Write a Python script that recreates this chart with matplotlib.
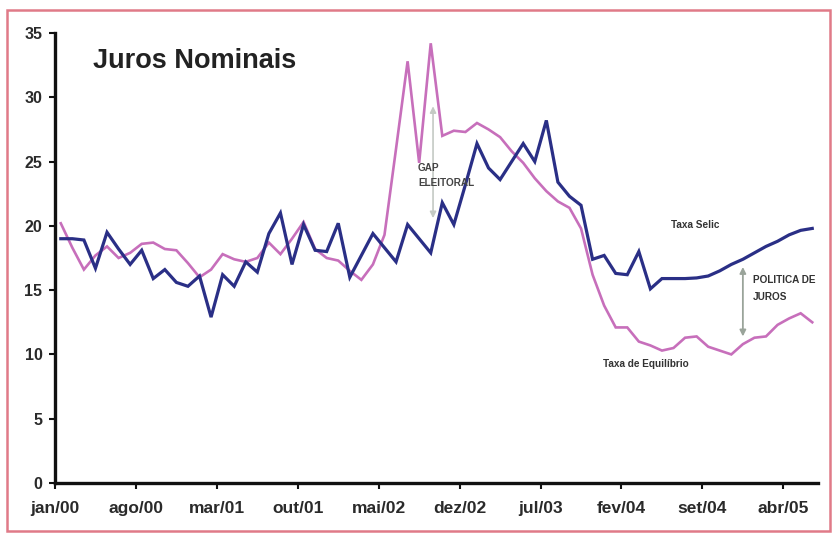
import matplotlib
matplotlib.use("Agg")
import matplotlib.pyplot as plt
from matplotlib.patches import Rectangle

# monthly series, jan/00 .. jun/05
selic = [
    19.0, 19.0, 18.9, 16.7, 19.5, 18.2, 17.0, 18.1, 15.9, 16.6,
    15.6, 15.3, 16.1, 12.9, 16.2, 15.3, 17.2, 16.4, 19.4, 21.0,
    17.0, 20.1, 18.1, 18.0, 20.2, 16.0, 17.7, 19.4, 18.3, 17.2,
    20.1, 19.0, 17.9, 21.8, 20.1, 23.2, 26.4, 24.5, 23.6, 25.0,
    26.4, 25.0, 28.2, 23.4, 22.3, 21.6, 17.4, 17.7, 16.3, 16.2,
    18.0, 15.1, 15.9, 15.9, 15.9, 15.95, 16.1, 16.5, 17.0, 17.4,
    17.9, 18.4, 18.8, 19.3, 19.65, 19.8,
]
equilibrio = [
    20.2, 18.3, 16.6, 17.7, 18.4, 17.5, 17.9, 18.6, 18.7, 18.2,
    18.1, 17.1, 16.0, 16.6, 17.8, 17.4, 17.2, 17.5, 18.7, 17.8,
    19.0, 20.3, 18.2, 17.5, 17.3, 16.5, 15.8, 17.0, 19.3, 26.0,
    32.8, 24.9, 34.2, 27.0, 27.4, 27.3, 28.0, 27.5, 26.9, 25.8,
    24.9, 23.7, 22.7, 21.9, 21.4, 19.8, 16.2, 13.8, 12.1, 12.1,
    11.0, 10.7, 10.3, 10.5, 11.3, 11.4, 10.6, 10.3, 10.0, 10.8,
    11.3, 11.4, 12.3, 12.8, 13.2, 12.5,
]
tick_labels = ["jan/00", "ago/00", "mar/01", "out/01", "mai/02",
               "dez/02", "jul/03", "fev/04", "set/04", "abr/05"]

BLUE = "#2a2f86"
PINK = "#c76fbb"
ARROW = "#9aa49a"
FONT = "Liberation Sans"
NOTE_SIZE = 7.2

fig = plt.figure(figsize=(8.32, 5.33), dpi=100)
fig.patch.set_facecolor("white")
ax = fig.add_axes([0.0661, 0.0938, 0.9171, 0.8443])

months = list(range(len(selic)))
ax.plot(months, equilibrio, color=PINK, linewidth=1.9, solid_joinstyle="miter")
ax.plot(months, selic, color=BLUE, linewidth=2.3, solid_joinstyle="miter")

ax.set_xlim(-0.5, len(selic) - 0.5)
ax.set_ylim(0, 35)
ax.set_xticks([-0.5 + 7 * k for k in range(len(tick_labels))])
ax.set_xticklabels(tick_labels)
ax.set_yticks(range(0, 36, 5))

for side in ("top", "right"):
    ax.spines[side].set_visible(False)
for side in ("left", "bottom"):
    ax.spines[side].set_linewidth(2.4)
    ax.spines[side].set_color("#111111")

ax.tick_params(axis="x", direction="out", length=4, width=1.5, pad=9,
               colors="#111111", labelcolor="#2a2a2a")
ax.tick_params(axis="y", direction="out", length=4, width=1.5, pad=5,
               colors="#111111", labelcolor="#2a2a2a")
for lbl in ax.get_xticklabels():
    lbl.set_fontfamily(FONT)
    lbl.set_fontweight("bold")
    lbl.set_fontsize(12.5)
for lbl in ax.get_yticklabels():
    lbl.set_fontfamily(FONT)
    lbl.set_fontweight("bold")
    lbl.set_fontsize(11.5)

ax.text(2.8, 32.8, "Juros Nominais", fontsize=19.5, fontweight="bold",
        family=FONT, color="#222222", va="center", ha="left")

# gap between the two rates around the 2002 election
ax.annotate("", xy=(32.2, 20.6), xytext=(32.2, 29.3),
            arrowprops=dict(arrowstyle="<|-|>", color="#c4cac4", lw=1.2,
                            mutation_scale=9, shrinkA=0, shrinkB=0))
ax.text(30.9, 24.5, "GAP", fontsize=NOTE_SIZE, fontweight="bold", family=FONT,
        color="#444444", va="center", ha="left")
ax.text(30.9, 23.3, "ELEITORAL", fontsize=NOTE_SIZE, fontweight="bold",
        family=FONT, color="#444444", va="center", ha="left")

# policy spread at the end of the period
ax.annotate("", xy=(59.0, 11.4), xytext=(59.0, 16.8),
            arrowprops=dict(arrowstyle="<|-|>", color=ARROW, lw=1.3,
                            mutation_scale=9, shrinkA=0, shrinkB=0))
ax.text(59.9, 15.8, "POLITICA DE", fontsize=NOTE_SIZE, fontweight="bold",
        family=FONT, color="#333333", va="center", ha="left")
ax.text(59.9, 14.5, "JUROS", fontsize=NOTE_SIZE, fontweight="bold",
        family=FONT, color="#333333", va="center", ha="left")

ax.text(54.9, 20.1, "Taxa Selic", fontsize=NOTE_SIZE, fontweight="bold",
        family=FONT, color="#333333", va="center", ha="center")
ax.text(50.6, 9.25, "Taxa de Equilíbrio", fontsize=NOTE_SIZE, fontweight="bold",
        family=FONT, color="#333333", va="center", ha="center")

# frame around the chart
fig.patches.append(Rectangle((0.0084, 0.004), 0.9892, 0.9772,
                             transform=fig.transFigure, fill=False,
                             edgecolor="#e07a88", linewidth=1.8))

fig.savefig("out.png", dpi=100, facecolor="white")
